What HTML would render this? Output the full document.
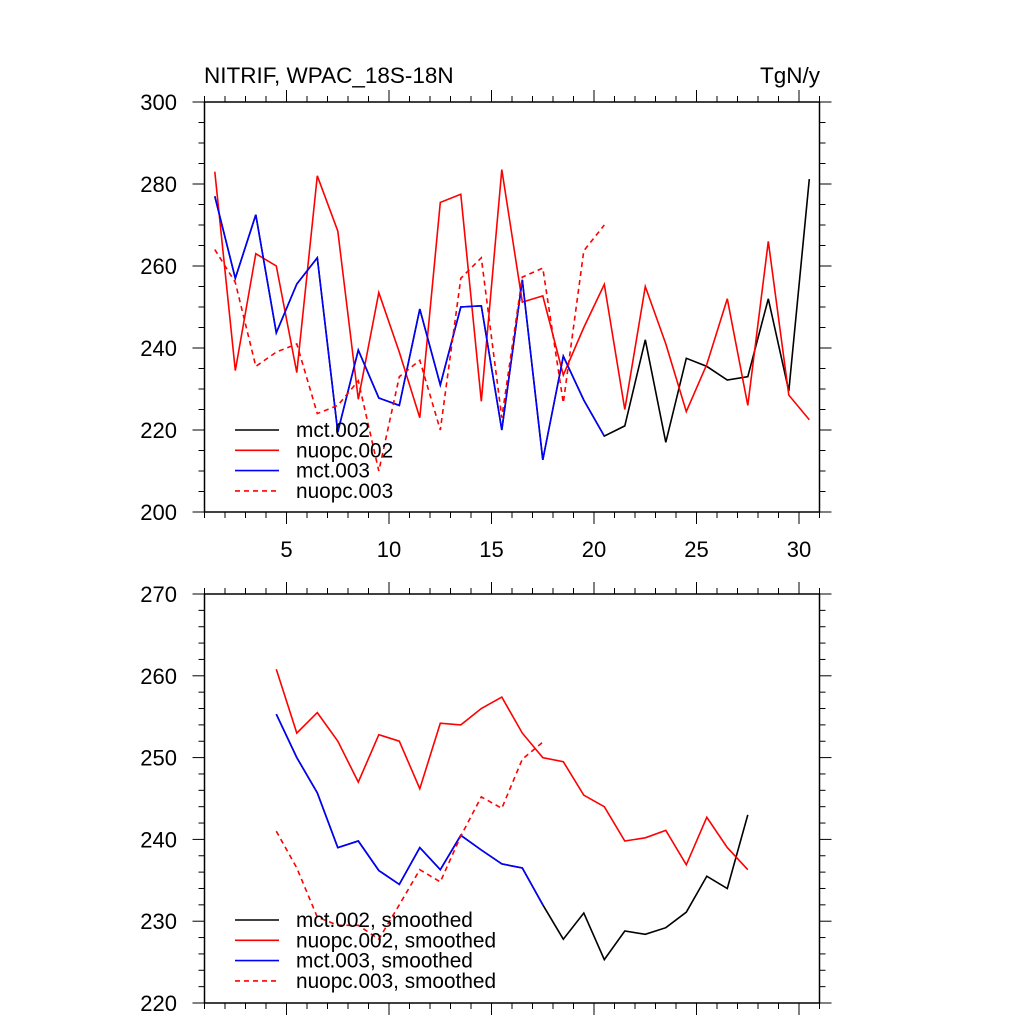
<!DOCTYPE html>
<html><head><meta charset="utf-8"><style>
body{margin:0;background:#fff}
svg text{font-family:"Liberation Sans",sans-serif;fill:#000}
</style></head><body>
<svg id="chart" width="1024" height="1024" xmlns="http://www.w3.org/2000/svg"></svg>
<script>
const xVals=[1.5,2.5,3.5,4.5,5.5,6.5,7.5,8.5,9.5,10.5,11.5,12.5,13.5,14.5,15.5,16.5,17.5,18.5,19.5,20.5,21.5,22.5,23.5,24.5,25.5,26.5,27.5,28.5,29.5,30.5];
const mct002=[277,257,272.5,243.7,255.6,262,219.5,239.5,227.8,226,249.5,231,250,250.3,220,256.6,212.7,238,227.3,218.5,221,242,217,237.5,235.5,232.2,233,252,229.5,281.2];
const nuopc002=[283,234.5,263,260,234,282,268.5,227.5,253.5,239,223,275.5,277.5,227,283.5,251.2,252.7,233.4,245,255.5,225,255,241,224.5,236,252,226,266,228.5,222.5];
const mct003=[277,257,272.5,243.7,255.6,262,219.5,239.5,227.8,226,249.5,231,250,250.3,220,256.6,212.7,238,227.3,218.5];
const nuopc003=[264,256,235.5,239,241,224,226,232,210,233,237,220,257,262,223,257.3,259.5,226.6,263.7,270];
const xSm=[4.5,5.5,6.5,7.5,8.5,9.5,10.5,11.5,12.5,13.5,14.5,15.5,16.5,17.5,18.5,19.5,20.5,21.5,22.5,23.5,24.5,25.5,26.5,27.5];
const mct002s=[255.3,250,245.7,239,239.8,236.2,234.5,239,236.3,240.5,238.7,237,236.5,232,227.8,231,225.3,228.8,228.4,229.2,231.1,235.5,234,243];
const nuopc002s=[260.8,253,255.5,252,247,252.8,252,246.2,254.2,254,256,257.4,253,250,249.5,245.4,244,239.8,240.2,241.1,236.9,242.7,239,236.3];
const mct003s=[255.3,250,245.7,239,239.8,236.2,234.5,239,236.3,240.5,238.7,237,236.5,232];
const nuopc003s=[241,236.5,230.5,229.5,229.5,227.8,232,236.3,234.8,240.4,245.2,243.8,249.8,251.9];
const topTicks=[200,220,240,260,280,300];
const botTicks=[220,230,240,250,260,270];
const xTickLabels=[5,10,15,20,25,30];

const svg=document.getElementById('chart');
const NS='http://www.w3.org/2000/svg';
function mk(tag,attrs,parent){const e=document.createElementNS(NS,tag);for(const k in attrs)e.setAttribute(k,attrs[k]);(parent||svg).appendChild(e);return e;}
const L=204.5,R=819.5;
const xs=v=>L+(v-1)*(R-L)/30;

function panel(name,top,bot,ymin,ymax,yticks,yminor,showX,series,legendNames,legY){
  const g=mk('g',{});
  
  
  const ys=v=>bot-(v-ymin)*(bot-top)/(ymax-ymin);
  const frame=mk('rect',{x:L,y:top,width:R-L,height:bot-top,fill:'none',stroke:'#000','stroke-width':1.5},g);
  
  
  for(let v=1;v<=31;v++){
    const x=xs(v),len=(v%5===0)?12:6;
    mk('line',{x1:x,x2:x,y1:bot,y2:bot+len,stroke:'#000','stroke-width':1},g);
    mk('line',{x1:x,x2:x,y1:top,y2:top-len,stroke:'#000','stroke-width':1},g);
  }
  if(showX){for(const t of xTickLabels){const tx=mk('text',{x:xs(t),y:bot+45,'font-size':22,'text-anchor':'middle'},g);tx.textContent=t;}}
  for(let v=ymin;v<=ymax+1e-6;v+=yminor){
    const y=ys(v),maj=yticks.some(t=>Math.abs(t-v)<1e-6),len=maj?12:6;
    mk('line',{x1:L,x2:L-len,y1:y,y2:y,stroke:'#000','stroke-width':1},g);
    mk('line',{x1:R,x2:R+len,y1:y,y2:y,stroke:'#000','stroke-width':1},g);
  }
  for(const t of yticks){const tx=mk('text',{x:177,y:ys(t)+8,'font-size':22,'text-anchor':'end'},g);tx.textContent=t;}
  series.forEach((s,i)=>{
    const pts=s.y.map((v,j)=>xs(s.x[j]).toFixed(1)+','+ys(v).toFixed(1)).join(' ');
    const p=mk('polyline',{points:pts,fill:'none',stroke:s.c,'stroke-width':1.6,'stroke-dasharray':s.d?'5,4':'none'},g);
    
    
  });
  series.forEach((s,i)=>{
    const y=legY+i*20.3;
    const le=mk('g',{},g);
    
    
    mk('line',{x1:235,x2:279,y1:y,y2:y,stroke:s.c,'stroke-width':1.6,'stroke-dasharray':s.d?'5,4':'none'},le);
    const tx=mk('text',{x:296,y:y+7,'font-size':20.8},le);tx.textContent=legendNames[i];
  });
}
panel('top-panel',102,512,200,300,topTicks,5,true,
 [{x:xVals,y:mct002,c:'#000'},{x:xVals,y:nuopc002,c:'#f00'},{x:xVals,y:mct003,c:'#00f'},{x:xVals,y:nuopc003,c:'#f00',d:1}],
 ['mct.002','nuopc.002','mct.003','nuopc.003'],430);
panel('bottom-panel',594,1003,220,270,botTicks,2,false,
 [{x:xSm,y:mct002s,c:'#000'},{x:xSm,y:nuopc002s,c:'#f00'},{x:xSm,y:mct003s,c:'#00f'},{x:xSm,y:nuopc003s,c:'#f00',d:1}],
 ['mct.002, smoothed','nuopc.002, smoothed','mct.003, smoothed','nuopc.003, smoothed'],920);
const t1=mk('text',{x:204,y:83,'font-size':22.5});t1.textContent='NITRIF, WPAC_18S-18N';


const t2=mk('text',{x:820,y:83,'font-size':22.5,'text-anchor':'end'});t2.textContent='TgN/y';


</script>
</body></html>
